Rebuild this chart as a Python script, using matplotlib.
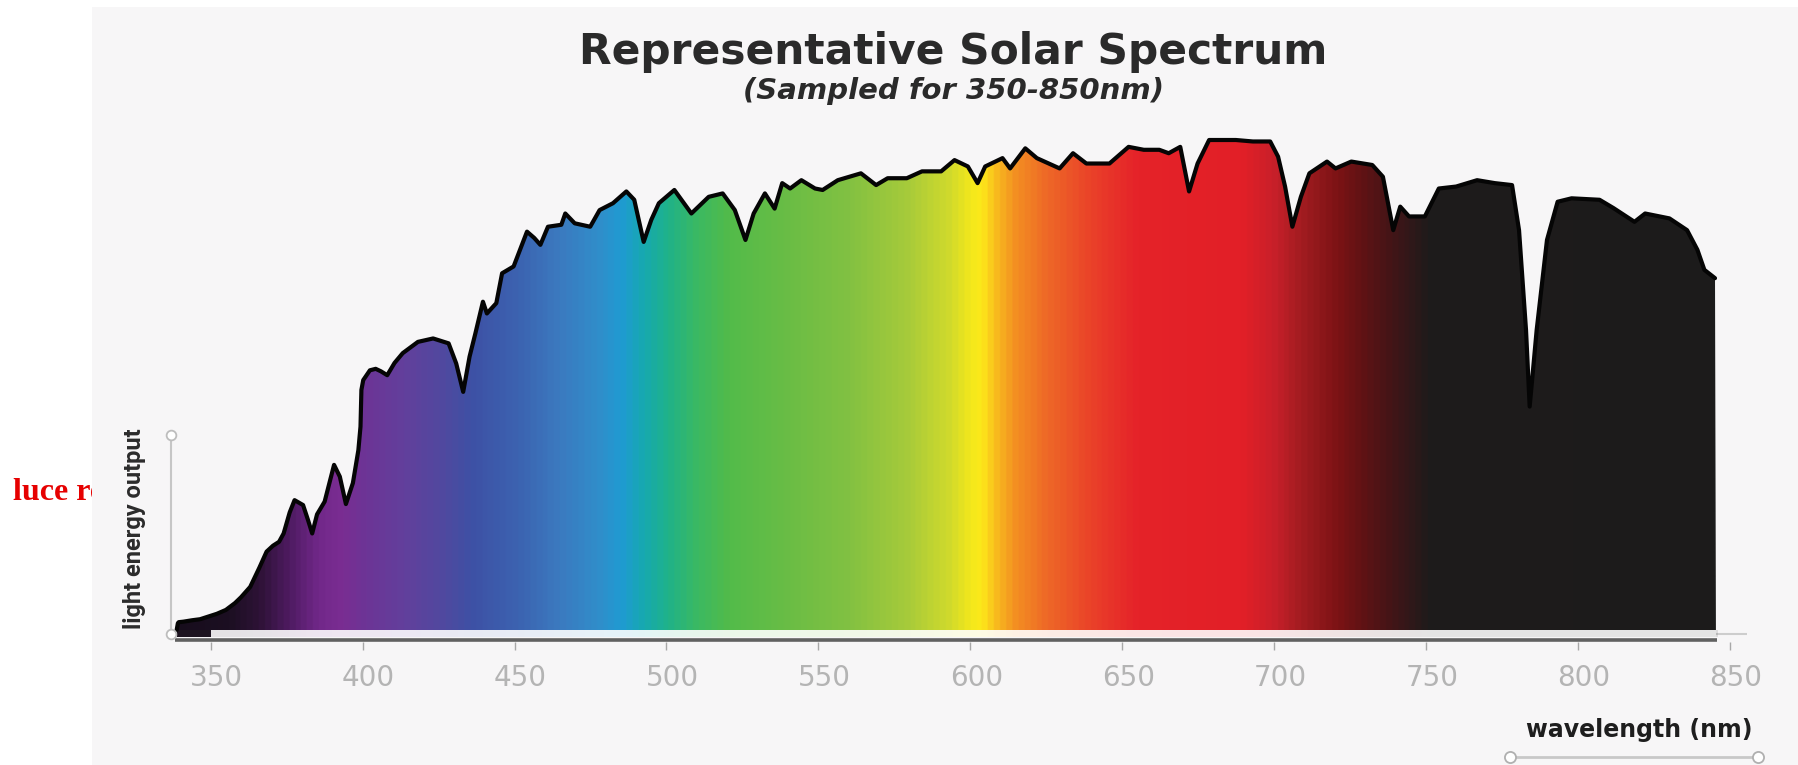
import matplotlib
matplotlib.use("Agg")
import matplotlib.pyplot as plt
import numpy as np
from matplotlib.colors import LinearSegmentedColormap
from matplotlib.lines import Line2D
from matplotlib.patches import Rectangle
from matplotlib.transforms import ScaledTranslation

W, H = 1798, 765

# spectrum outline (nm, relative output)
wavelength = [338.8, 339.2, 339.5, 341, 344, 346.5, 349, 352, 355, 358, 360, 363, 366,
              368.4, 370.5, 372.5, 374, 376, 377.6, 380.4, 382, 383.4, 385, 387.5, 390.6,
              392.5, 394.5, 396.8, 398.6, 399.3, 399.6, 400.2, 402.4, 404.3, 406, 408.1,
              410.5, 413.2, 418.2, 423.2, 428.3, 430.8, 433.1, 435.2, 437.1, 439.6, 440.9,
              444, 445.9, 449.7, 454.1, 456.5, 458.5, 461, 465.4, 466.7, 469.8, 474.9, 478,
              482.4, 486.8, 489.4, 492.5, 495, 497.5, 502.6, 508.2, 513.9, 518.5, 522.5, 526,
              528.7, 532.4, 535.6, 538.1, 540.7, 544.4, 548.9, 551.4, 556.4, 564, 569, 572.8,
              579.1, 584.1, 590.4, 594.8, 599.2, 602.4, 604.9, 610.6, 613.1, 618.1, 621.9,
              629.4, 633.8, 638.2, 645.8, 652.1, 657.1, 662.2, 665.3, 669.1, 672, 674.8,
              678.6, 687.4, 693, 698.7, 701.3, 703.6, 706, 708.8, 711.6, 717.4, 720.2, 725.4,
              732.3, 735.8, 739.2, 741.5, 744.4, 749.6, 754.2, 759.9, 766.8, 772.6, 778.3,
              780.6, 782.9, 784.1, 786.4, 789.8, 793.3, 797.9, 807.1, 811.7, 818.6, 822.1,
              830.1, 835.9, 839.3, 841.6, 845.1, 845.4]
output = [0.0, 0.014, 0.016, 0.017, 0.020, 0.022, 0.027, 0.033, 0.041, 0.055, 0.067, 0.088,
          0.127, 0.160, 0.172, 0.180, 0.197, 0.240, 0.265, 0.255, 0.225, 0.197, 0.236, 0.262,
          0.337, 0.313, 0.257, 0.300, 0.367, 0.415, 0.490, 0.510, 0.530, 0.533, 0.528, 0.520,
          0.545, 0.565, 0.588, 0.595, 0.585, 0.544, 0.486, 0.558, 0.605, 0.670, 0.646, 0.667,
          0.728, 0.742, 0.813, 0.800, 0.786, 0.823, 0.827, 0.850, 0.830, 0.823, 0.857, 0.871,
          0.895, 0.878, 0.792, 0.837, 0.871, 0.898, 0.850, 0.884, 0.891, 0.857, 0.796, 0.850,
          0.891, 0.860, 0.912, 0.901, 0.918, 0.901, 0.898, 0.918, 0.932, 0.908, 0.922, 0.922,
          0.936, 0.936, 0.959, 0.946, 0.912, 0.946, 0.963, 0.942, 0.983, 0.963, 0.942, 0.973,
          0.952, 0.952, 0.986, 0.980, 0.980, 0.973, 0.986, 0.895, 0.952, 1.000, 1.000, 0.997,
          0.997, 0.966, 0.905, 0.823, 0.884, 0.932, 0.956, 0.942, 0.956, 0.949, 0.925, 0.816,
          0.864, 0.844, 0.844, 0.901, 0.905, 0.918, 0.912, 0.908, 0.816, 0.612, 0.456, 0.612,
          0.796, 0.874, 0.881, 0.878, 0.861, 0.833, 0.850, 0.840, 0.816, 0.776, 0.735, 0.718,
          0.0]

ticks = [350, 400, 450, 500, 550, 600, 650, 700, 750, 800, 850]

# colour bands of the gradient fill
band_nm = [338, 355, 365, 375, 385, 392, 400, 412, 425, 435, 450, 465, 478, 485, 492, 500,
           510, 520, 540, 560, 580, 593, 600, 604, 609, 615, 625, 640, 655, 690, 700, 710,
           722, 732, 742, 752, 846]
band_colors = ['#170d1c', '#1c0f22', '#2d1236', '#4f1b62', '#72288a', '#7a2d92', '#6d3496',
               '#633f9c', '#52489f', '#3e51a5', '#3c62b0', '#3b7bc0', '#2f8fcb', '#1f9bd2',
               '#17a9b0', '#1fb28a', '#3bb962', '#52bb4a', '#6abd45', '#82c142', '#a8cb3a',
               '#d0da2c', '#f3e81c', '#fde91a', '#f8b91e', '#f38f22', '#ee6a27', '#ea4129',
               '#e52329', '#e21f27', '#c9202a', '#a11c20', '#7a1214', '#591315', '#3b1618',
               '#1e1b1b', '#1c1c1c']

# pixel layout of the plot
NM350_PX, PX_PER_NM = 210.7, 3.0384
BASE_PX, PX_PER_UNIT = 630, 490


def fx(px):
    return px / W


def fy(py):
    return 1 - py / H


def nm_at(px):
    return 350 + (px - NM350_PX) / PX_PER_NM


def val_at(py):
    return (BASE_PX - py) / PX_PER_UNIT


fig = plt.figure(figsize=(W / 100, H / 100), dpi=100)
fig.patch.set_facecolor('white')

# text left outside the panel, cut off by it
fig.text(fx(13), fy(500), 'luce re', color='#e60000', fontsize=23, fontweight='bold',
         family='Liberation Serif', va='baseline', zorder=0.2)
fig.patches.append(Rectangle((fx(92), 0), 1 - fx(92), fy(7), transform=fig.transFigure,
                             facecolor='#f7f6f7', edgecolor='none', zorder=0.5))

ax = fig.add_axes([fx(171), fy(642), fx(1747) - fx(171), (642 - 100) / H])
ax.set_zorder(1)
ax.patch.set_alpha(0)

span = band_nm[-1] - band_nm[0]
cmap = LinearSegmentedColormap.from_list(
    'spec', [((n - band_nm[0]) / span, c) for n, c in zip(band_nm, band_colors)])
grad = np.linspace(0, 1, 1000)[None, :]
im = ax.imshow(grad, cmap=cmap, extent=[band_nm[0], band_nm[-1], 0, 1.05], aspect='auto',
               interpolation='bilinear', zorder=2)
poly = ax.fill_between(wavelength, 0, output, facecolor='none', edgecolor='none')
im.set_clip_path(poly.get_paths()[0], ax.transData)

# pale reflection strip under the spectrum
ax.fill_between([350, 845.4], val_at(637), 0, color='white', lw=0, zorder=1.5)
ax.imshow(grad, cmap=cmap, extent=[band_nm[0], band_nm[-1], val_at(637), 0], aspect='auto',
          interpolation='bilinear', alpha=0.12, zorder=1.6)
ax.fill_between([338.8, 350], val_at(637), 0, color='#1d1420', lw=0, zorder=1.7)

ax.plot(wavelength[:-1], output[:-1], color='#050505', lw=3, solid_joinstyle='round',
        solid_capstyle='round', zorder=3)

ax.set_xlim(nm_at(171), nm_at(1747))
ax.set_ylim(val_at(642), val_at(100))

ax.axhline(val_at(634), color='#cdcdcd', lw=1.5, zorder=1.4)
ax.hlines(val_at(639.5), nm_at(175), nm_at(1717), color='#616161', lw=2.6, zorder=1.8)

for s in ['top', 'right', 'bottom']:
    ax.spines[s].set_visible(False)
ax.spines['left'].set_bounds(val_at(634), val_at(435))
ax.spines['left'].set_color('#c6c6c6')
ax.spines['left'].set_linewidth(1.5)
ax.plot([nm_at(171)] * 2, [val_at(634), val_at(435)], 'o', ms=7, mfc='white', mec='#bdbdbd',
        mew=1.3, clip_on=False, zorder=5)

ax.set_yticks([])
ax.set_xticks(ticks)
ax.set_xticklabels([str(t) for t in ticks])
ax.tick_params(axis='x', length=5.8, width=1, color='#a8a8a8', pad=10, labelsize=20,
               labelcolor='#b4b4b4')
offset = ScaledTranslation(6 / 100, 0, fig.dpi_scale_trans)
for lab in ax.get_xticklabels():
    lab.set_transform(lab.get_transform() + offset)

fig.text(fx(135), fy(529), 'light energy output', rotation=90, ha='center', va='center',
         fontsize=17, fontweight='bold', color='#2b2b2b', family='Roboto', zorder=2)

fig.text(fx(953.5), fy(64), 'Representative Solar Spectrum', ha='center', va='baseline',
         fontsize=30.5, fontweight='bold', color='#2a2a2a', zorder=2)
fig.text(fx(953.5), fy(99), '(Sampled for 350-850nm)', ha='center', va='baseline',
         fontsize=21, fontweight='bold', style='italic', color='#2a2a2a', zorder=2)

fig.text(fx(1639), fy(737), 'wavelength (nm)', ha='center', va='baseline', fontsize=17,
         fontweight='bold', color='#1e1e1e', zorder=2)
fig.add_artist(Line2D([fx(1510), fx(1758)], [fy(757), fy(757)], transform=fig.transFigure,
                      color='#c8c8c8', lw=2, marker='o', ms=8, mfc='white', mec='#b0b0b0',
                      mew=1.3, zorder=2))

fig.savefig('out.png', dpi=100)
